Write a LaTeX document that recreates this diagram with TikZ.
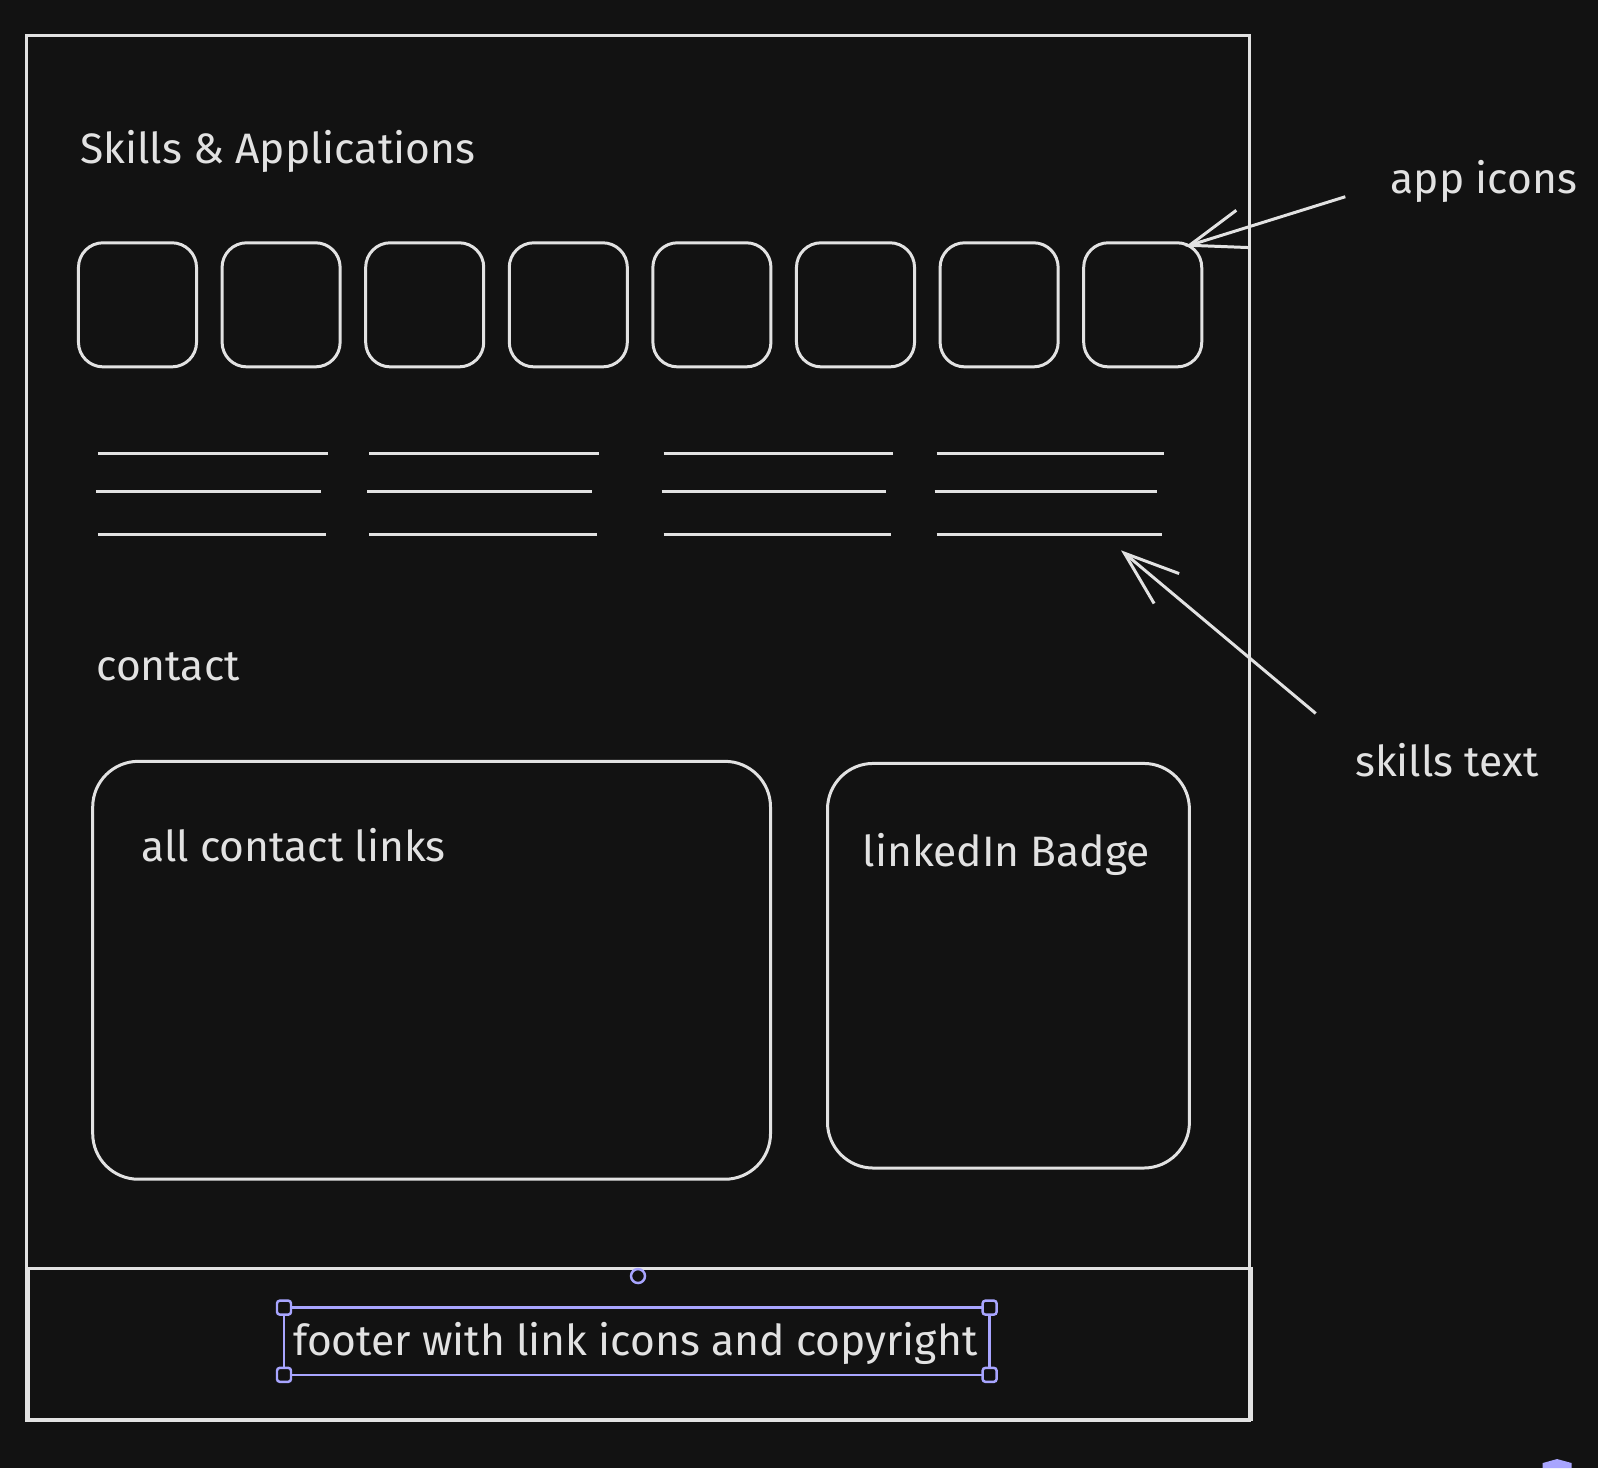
\documentclass[tikz,border=0pt]{standalone}
\usepackage{fontspec}
\setmainfont{Fira Sans}
\usetikzlibrary{arrows.meta,positioning}
\definecolor{canvas}{HTML}{121212}
\definecolor{ink}{HTML}{E2E2E2}
\definecolor{select}{HTML}{A8A5FF}
\tikzset{
  sketch/.style={draw=ink, line width=0.85pt},
  icon/.style={sketch, rounded corners=7pt, minimum width=1.18cm, minimum height=1.24cm, inner sep=0pt},
  card/.style={sketch, rounded corners=13pt},
  label/.style={text=ink, font=\fontsize{12.1}{14}\selectfont, inner sep=0pt, anchor=base west},
  textline/.style={draw=ink, line width=0.85pt},
  pointer/.style={draw=ink, line width=0.85pt, -{Straight Barb[length=0.55cm,width=0.39cm]}},
  handle/.style={draw=select, fill=canvas, line width=0.7pt, rounded corners=0.8pt, minimum size=0.14cm, inner sep=0pt},
}
\begin{document}
\begin{tikzpicture}[x=0.01cm,y=-0.01cm]
  \fill[canvas] (0,0) rectangle (1598,1468);
  \useasboundingbox (0,0) rectangle (1598,1468);

  % page frame and footer strip
  \draw[sketch, line width=1pt] (26.5,35.7) rectangle (1249.5,1419.7);
  \draw[sketch] (28.5,1268.9) rectangle (1251.5,1419.7);

  % skills section
  \node[label] (skillstitle) at (79.5,163) {Skills \& Applications};
  \foreach \i in {1,...,8}
    \node[icon] (icon\i) at ({137.5+(\i-1)*143.6},304.8) {};

  \foreach \x/\w [count=\g] in {97.8/230, 369/230, 663.5/229, 936.6/227}{
    \draw[textline] (\x,453.5) -- ++(\w,0);
    \draw[textline] (\x-2,491.2) -- ++(\w-5,0);
    \draw[textline] (\x,534) -- ++(\w-2,0);
  }

  % contact section
  \node[label] (contacttitle) at (95.8,680.8) {contact};
  \draw[card] (92.7,761.3) rectangle (770.5,1179.2);
  \node[label] (contactlinks) at (140.6,861) {all contact links};
  \draw[card] (827.5,763.4) rectangle (1189.4,1168);
  \node[label] (badge) at (862,866.3) {linkedIn Badge};

  % annotations
  \node[label] (applabel) at (1390,193.6) {app icons};
  \coordinate (apptail) at (1345.3,196.7);
  \coordinate (apptip) at (1185.3,246.6);
  \draw[pointer] (apptail) -- (apptip);

  \node[label] (skillslabel) at (1354.5,776.6) {skills text};
  \coordinate (skillstail) at (1315.7,713.4);
  \coordinate (skillstip) at (1121,550.3);
  \draw[pointer] (skillstail) -- (skillstip);

  % footer text with selection frame
  \draw[draw=select, line width=0.7pt] (284,1307.6) rectangle (989.6,1374.8);
  \node[label] (footer) at (292.5,1355.5) {footer with link icons and copyright};
  \foreach \p in {(284,1307.6), (989.6,1307.6), (284,1374.8), (989.6,1374.8)}
    \node[handle] at \p {};
  \draw[draw=select, line width=0.7pt, fill=canvas] (638,1276) circle (7);
  \fill[select] (1542.7,1468) -- (1542.7,1463) -- (1557,1459) -- (1571.7,1463) -- (1571.7,1468) -- cycle;
\end{tikzpicture}
\end{document}
